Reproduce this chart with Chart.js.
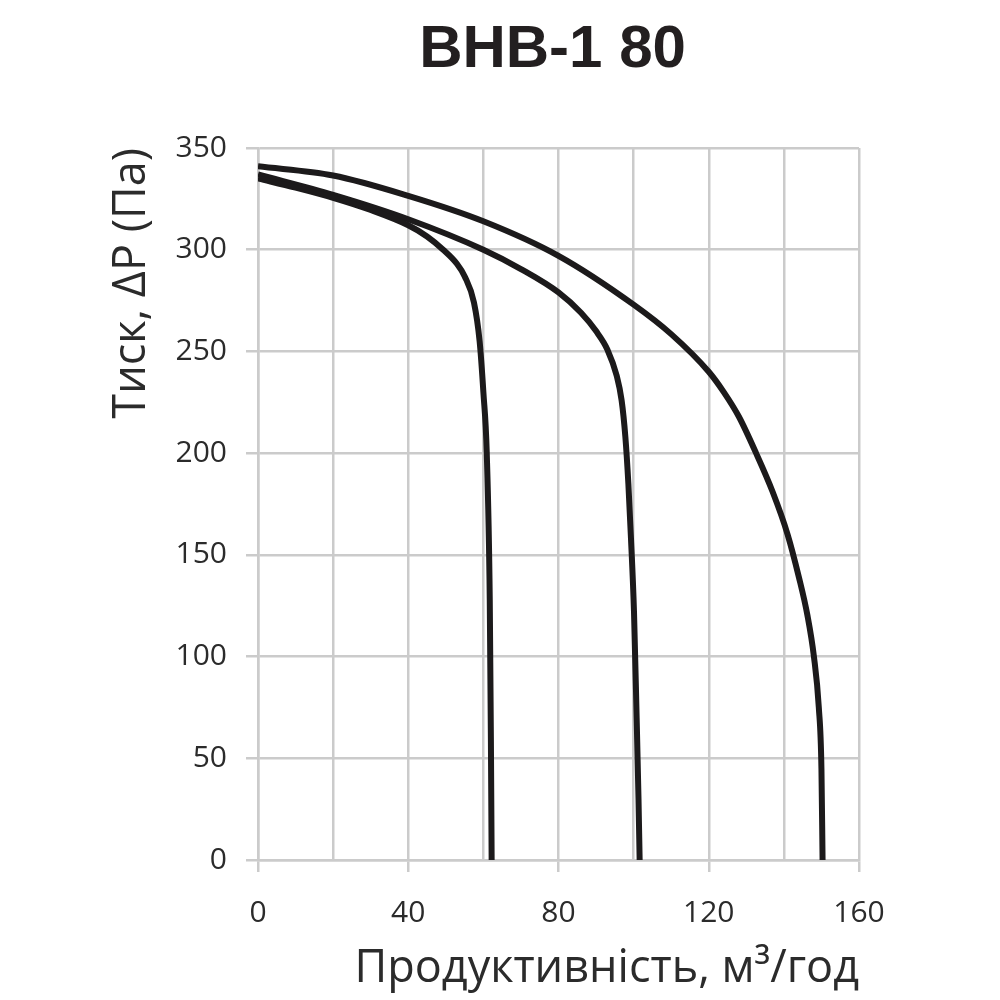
<!DOCTYPE html>
<html lang="uk">
<head>
    <meta charset="UTF-8">
    <title>ВНВ-1 80</title>
    <script src="https://cdn.jsdelivr.net/npm/chart.js"></script>
    <style>
        html, body { margin: 0; padding: 0; background: #fff; }
        #wrap { width: 1000px; height: 1000px; }
    </style>
</head>
<body>
    <div id="wrap">
        <canvas id="fanChart" width="1000" height="1000"></canvas>
    </div>

    <script>
        // Curve data: flow Q (m3/h) and pressure dP (Pa)
        var curve1Q = [0, 10, 20, 30, 40, 45, 49.3, 53, 55, 57.5, 59, 60, 60.9, 61.7, 62, 62.2];
        var curve1P = [335, 330.5, 325.5, 319.5, 312, 306.5, 300, 293, 287, 274, 255, 230, 200, 128, 60, 0];

        var curve2Q = [0, 20, 40, 60, 70, 80, 86, 90, 93, 95.5, 96.8, 97.8, 98.6, 99.3, 100.1, 100.8, 101.3, 101.6];
        var curve2P = [337, 327, 315, 300, 290.5, 279, 269, 260, 251, 238, 226, 208, 185, 158, 122, 70, 30, 0];

        var curve3Q = [0, 20, 40, 60, 80, 100, 110, 120, 124, 128, 132.6, 137, 141, 144, 146.3, 148, 149.3, 150, 150.3];
        var curve3P = [341, 336.5, 326.5, 314, 297, 273, 258.5, 240, 230, 218, 200, 181, 160, 139, 120, 100, 75, 45, 0];

        var chartTitle = 'ВНВ-1 80';
        var xTitle = 'Продуктивність, м³/год';
        var yTitle = 'Тиск, ΔР (Па)';

        function toPoints(qs, ps) {
            return qs.map(function (q, i) { return { x: q, y: ps[i] }; });
        }

        var gridColor = '#cbcbcb';
        var textColor = '#2b2b2b';

        // draws the bold title centred over the plot area
        var titlePlugin = {
            id: 'plotTitle',
            afterDraw: function (chart) {
                var c = chart.ctx;
                var a = chart.chartArea;
                c.save();
                c.font = 'bold 60px "Liberation Sans", Arial, sans-serif';
                c.fillStyle = '#231f20';
                c.textAlign = 'center';
                c.textBaseline = 'alphabetic';
                c.fillText(chartTitle, (a.left + a.right) / 2 - 6, 67);
                c.restore();
            }
        };

        function lineSet(qs, ps) {
            return {
                data: toPoints(qs, ps),
                borderColor: '#1c1a1b',
                borderWidth: 6,
                pointRadius: 0,
                cubicInterpolationMode: 'monotone',
                fill: false
            };
        }

        var ctx = document.getElementById('fanChart').getContext('2d');
        var fanChart = new Chart(ctx, {
            type: 'line',
            data: {
                datasets: [
                    lineSet(curve1Q, curve1P),
                    lineSet(curve2Q, curve2P),
                    lineSet(curve3Q, curve3P)
                ]
            },
            options: {
                responsive: false,
                animation: false,
                devicePixelRatio: 1,
                layout: { padding: { top: 148, right: 141, bottom: 0, left: 0 } },
                plugins: {
                    legend: { display: false },
                    tooltip: { enabled: false }
                },
                scales: {
                    x: {
                        type: 'linear',
                        min: 0,
                        max: 160,
                        afterFit: function (s) { s.height = 140; },
                        grid: {
                            color: gridColor,
                            lineWidth: 2.5,
                            tickLength: 12,
                            tickColor: function (c) {
                                return c.tick && c.tick.value % 40 === 0 ? gridColor : 'rgba(0,0,0,0)';
                            }
                        },
                        border: { color: gridColor, width: 2.5 },
                        ticks: {
                            stepSize: 20,
                            padding: 23,
                            color: textColor,
                            font: { family: '"Open Sans", sans-serif', size: 30 },
                            callback: function (v) { return v % 40 === 0 ? v : ''; }
                        },
                        title: {
                            display: true,
                            text: xTitle,
                            align: 'end',
                            color: textColor,
                            font: { family: '"Open Sans", sans-serif', size: 45 },
                            padding: { top: 0, bottom: 4 }
                        }
                    },
                    y: {
                        min: 0,
                        max: 350,
                        afterFit: function (s) { s.width = 258; },
                        grid: { color: gridColor, lineWidth: 2.5, tickLength: 12 },
                        border: { color: gridColor, width: 2.5 },
                        ticks: {
                            stepSize: 50,
                            padding: 19,
                            color: textColor,
                            font: { family: '"Open Sans", sans-serif', size: 30 }
                        },
                        title: {
                            display: true,
                            text: yTitle,
                            align: 'end',
                            color: textColor,
                            font: { family: '"Open Sans", sans-serif', size: 45 },
                            padding: { top: 105, bottom: 0 }
                        }
                    }
                }
            },
            plugins: [titlePlugin]
        });
    </script>
</body>
</html>
